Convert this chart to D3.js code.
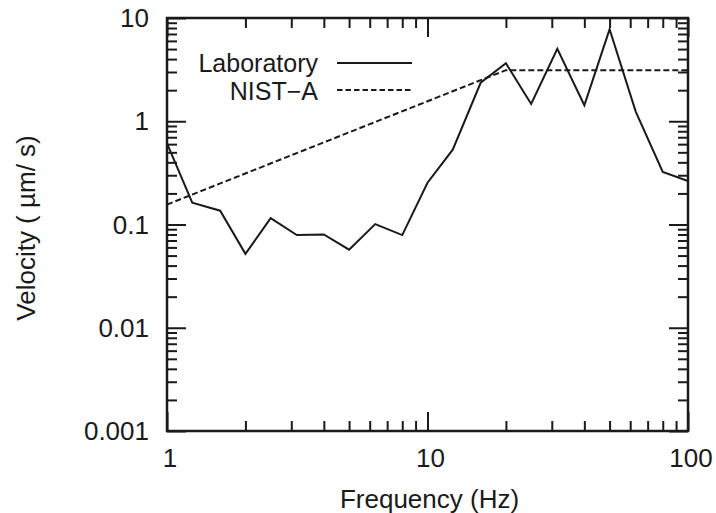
<!DOCTYPE html>
<html>
<head>
<meta charset="utf-8">
<script src="https://cdn.jsdelivr.net/npm/d3@7"></script>
<style>
  body { margin: 0; background: #fff; }
  text { font-family: "Liberation Sans", Arial, sans-serif; fill: #1a1a1a; }
</style>
</head>
<body>
<svg id="chart"></svg>
<script>
// third-octave frequencies (Hz)
let freqs = [1, 1.25, 1.6, 2, 2.5, 3.15, 4, 5, 6.3, 8, 10, 12.5, 16, 20, 25, 31.5, 40, 50, 63, 80, 100];
// measured lab velocity (um/s)
let labVelocity = [0.61, 0.163, 0.136, 0.052, 0.115, 0.079, 0.080, 0.057, 0.101, 0.079, 0.254, 0.53, 2.36, 3.64, 1.47, 5.04, 1.43, 7.77, 1.24, 0.323, 0.264];
// NIST-A criterion
let nistFreqs = [1, 20, 100];
let nistVelocity = [0.156, 3.125, 3.125];

let xMajor = [1, 10, 100];
let xLabels = ['1', '10', '100'];
let yMajor = [0.001, 0.01, 0.1, 1, 10];
let yLabels = ['0.001', '0.01', '0.1', '1', '10'];

const canvasWidth = 716;
const canvasHeight = 513;
const plotLeft = 167, plotRight = 688, plotTop = 18, plotBottom = 431;
const fontSize = 26;

function minorTicks(lo, hi) {
	let out = [];
	for (let d = lo; d < hi; d *= 10) {
		for (let k = 2; k <= 9; k++) out.push(d * k);
	}
	return out;
}

let svg = d3.select('#chart')
	.attr('width', canvasWidth)
	.attr('height', canvasHeight);

let x = d3.scaleLog().domain([1, 100]).range([plotLeft, plotRight]);
let y = d3.scaleLog().domain([0.001, 10]).range([plotBottom, plotTop]);

let xMinor = minorTicks(1, 100);
let yMinor = minorTicks(0.001, 10);

function tickAxis(axisFn, scale, values, size, pos) {
	let g = svg.append('g')
		.attr('transform', pos)
		.call(axisFn(scale).tickValues(values).tickSize(-size).tickFormat(''));
	g.select('.domain').remove();
	g.selectAll('line').attr('stroke', '#1a1a1a').attr('stroke-width', 2);
	return g;
}

// ticks on all four sides, pointing inward
tickAxis(d3.axisBottom, x, xMajor, 19, `translate(0,${plotBottom})`);
tickAxis(d3.axisBottom, x, xMinor, 10, `translate(0,${plotBottom})`);
tickAxis(d3.axisTop, x, xMajor, 19, `translate(0,${plotTop})`);
tickAxis(d3.axisTop, x, xMinor, 10, `translate(0,${plotTop})`);
tickAxis(d3.axisLeft, y, yMajor, 19, `translate(${plotLeft},0)`);
tickAxis(d3.axisLeft, y, yMinor, 10, `translate(${plotLeft},0)`);
tickAxis(d3.axisRight, y, yMajor, 19, `translate(${plotRight},0)`);
tickAxis(d3.axisRight, y, yMinor, 10, `translate(${plotRight},0)`);

// tick labels
svg.selectAll('.xlab')
	.data(xMajor).enter()
	.append('text')
	.attr('class', 'xlab')
	.attr('x', (d) => x(d) + 3)
	.attr('y', 467)
	.attr('text-anchor', 'middle')
	.style('font-size', fontSize + 'px')
	.text((d, i) => xLabels[i]);

svg.selectAll('.ylab')
	.data(yMajor).enter()
	.append('text')
	.attr('class', 'ylab')
	.attr('x', 149)
	.attr('y', (d) => y(d) + 9)
	.attr('text-anchor', 'end')
	.style('font-size', fontSize + 'px')
	.text((d, i) => yLabels[i]);

// curves
let line = d3.line()
	.x((d) => x(d[0]))
	.y((d) => y(d[1]));

svg.append('path')
	.datum(freqs.map((f, i) => [f, labVelocity[i]]))
	.attr('d', line)
	.attr('fill', 'none')
	.attr('stroke', '#1a1a1a')
	.attr('stroke-width', 2)
	.attr('stroke-linejoin', 'miter');

svg.append('path')
	.datum(nistFreqs.map((f, i) => [f, nistVelocity[i]]))
	.attr('d', line)
	.attr('fill', 'none')
	.attr('stroke', '#1a1a1a')
	.attr('stroke-width', 2)
	.attr('stroke-dasharray', '6,3');

// frame
svg.append('rect')
	.attr('x', plotLeft)
	.attr('y', plotTop)
	.attr('width', plotRight - plotLeft)
	.attr('height', plotBottom - plotTop)
	.attr('fill', 'none')
	.attr('stroke', '#1a1a1a')
	.attr('stroke-width', 2.5);

// legend
let legend = [
	{name: 'Laboratory', dash: null, ty: 71.5, ly: 63},
	{name: 'NIST\u2212A', dash: '5.5,3', ty: 100, ly: 90}
];
legend.forEach((l) => {
	svg.append('text')
		.attr('x', 318)
		.attr('y', l.ty)
		.attr('text-anchor', 'end')
		.style('font-size', '25px')
		.text(l.name);
	svg.append('line')
		.attr('x1', 337).attr('x2', 412)
		.attr('y1', l.ly).attr('y2', l.ly)
		.attr('stroke', '#1a1a1a')
		.attr('stroke-width', 2)
		.attr('stroke-dasharray', l.dash);
});

// axis titles
svg.append('text')
	.attr('x', (plotLeft + plotRight) / 2 + 2)
	.attr('y', 508)
	.attr('text-anchor', 'middle')
	.style('font-size', fontSize + 'px')
	.text('Frequency (Hz)');

svg.append('text')
	.attr('transform', 'translate(35,228) rotate(-90)')
	.attr('text-anchor', 'middle')
	.style('font-size', fontSize + 'px')
	.text('Velocity ( \u00b5m/ s)');
</script>
</body>
</html>
